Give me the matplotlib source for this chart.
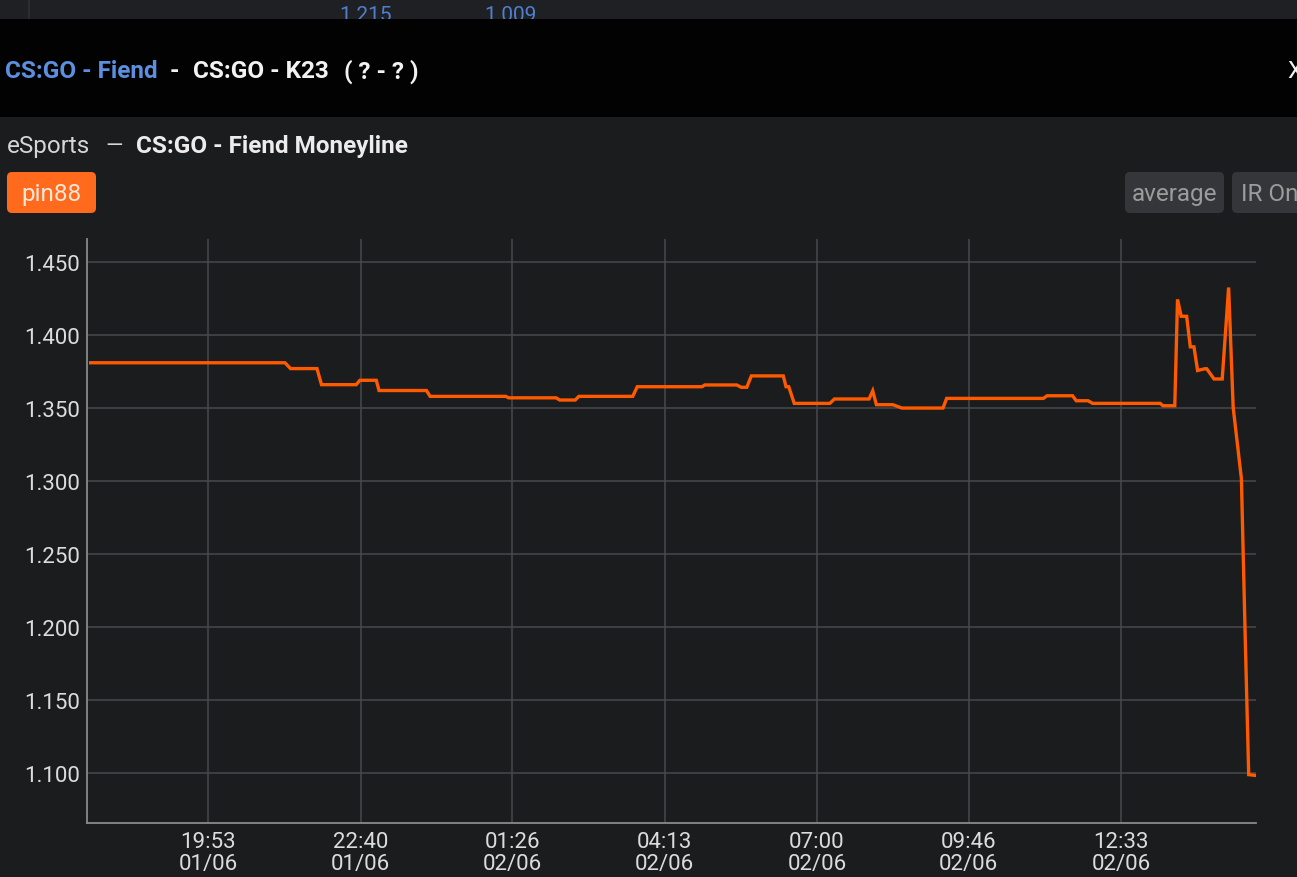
import matplotlib
matplotlib.use("Agg")
import matplotlib.pyplot as plt
import matplotlib.dates as mdates
import matplotlib.transforms as mtransforms
from matplotlib.patches import FancyBboxPatch, Rectangle
import pandas as pd

# ---------------- data ----------------
times = [
    "2021-06-01 17:44", "2021-06-01 21:17", "2021-06-01 21:23", "2021-06-01 21:52",
    "2021-06-01 21:57", "2021-06-01 22:35", "2021-06-01 22:39", "2021-06-01 22:57",
    "2021-06-01 23:00", "2021-06-01 23:52", "2021-06-01 23:56", "2021-06-02 01:19",
    "2021-06-02 01:22", "2021-06-02 02:14", "2021-06-02 02:18", "2021-06-02 02:35",
    "2021-06-02 02:39", "2021-06-02 03:38", "2021-06-02 03:43", "2021-06-02 04:54",
    "2021-06-02 04:57", "2021-06-02 05:32", "2021-06-02 05:37", "2021-06-02 05:43",
    "2021-06-02 05:48", "2021-06-02 06:23", "2021-06-02 06:26", "2021-06-02 06:29",
    "2021-06-02 06:35", "2021-06-02 07:14", "2021-06-02 07:19", "2021-06-02 07:57",
    "2021-06-02 08:01", "2021-06-02 08:05", "2021-06-02 08:23", "2021-06-02 08:33",
    "2021-06-02 09:18", "2021-06-02 09:22", "2021-06-02 11:08", "2021-06-02 11:12",
    "2021-06-02 11:40", "2021-06-02 11:44", "2021-06-02 11:57", "2021-06-02 12:02",
    "2021-06-02 13:16", "2021-06-02 13:19", "2021-06-02 13:32", "2021-06-02 13:35",
    "2021-06-02 13:39", "2021-06-02 13:45", "2021-06-02 13:49", "2021-06-02 13:53",
    "2021-06-02 13:57", "2021-06-02 14:05", "2021-06-02 14:07", "2021-06-02 14:15",
    "2021-06-02 14:24", "2021-06-02 14:31", "2021-06-02 14:36", "2021-06-02 14:45",
    "2021-06-02 14:49", "2021-06-02 14:53", "2021-06-02 15:01",
]
odds = [
    1.381, 1.381, 1.377, 1.377,
    1.366, 1.366, 1.369, 1.369,
    1.362, 1.362, 1.358, 1.358,
    1.357, 1.357, 1.3555, 1.3555,
    1.358, 1.358, 1.3646, 1.3646,
    1.3658, 1.3658, 1.3642, 1.3642,
    1.372, 1.372, 1.3646, 1.3646,
    1.3532, 1.3532, 1.3562, 1.3562,
    1.3618, 1.3523, 1.3523, 1.350,
    1.350, 1.3566, 1.3566, 1.3584,
    1.3584, 1.355, 1.355, 1.3532,
    1.3532, 1.3516, 1.3516, 1.4244,
    1.4128, 1.4128, 1.3919, 1.3919,
    1.3757, 1.3769, 1.3769, 1.3699,
    1.3699, 1.4325, 1.3503, 1.3017,
    1.1976, 1.0991, 1.0985,
]
tick_times = ["2021-06-01 19:53", "2021-06-01 22:40", "2021-06-02 01:26",
              "2021-06-02 04:13", "2021-06-02 07:00", "2021-06-02 09:46",
              "2021-06-02 12:33"]
tick_labels = ["19:53\n01/06", "22:40\n01/06", "01:26\n02/06", "04:13\n02/06",
               "07:00\n02/06", "09:46\n02/06", "12:33\n02/06"]
y_ticks = [1.100, 1.150, 1.200, 1.250, 1.300, 1.350, 1.400, 1.450]
x_range = ["2021-06-01 17:40", "2021-06-02 15:01"]
y_range = [1.066, 1.4657]

# ---------------- style ----------------
W, H = 1297, 878
BG = "#1b1c1e"
plt.rcParams['font.family'] = ['Roboto', 'DejaVu Sans']

fig = plt.figure(figsize=(W / 100, H / 100), dpi=100)
fig.patch.set_facecolor(BG)
T = mtransforms.Affine2D().scale(1, -1).translate(0, H)  # top-down pixel coords


def rect(x0, y0, x1, y1, color, z=1):
    fig.patches.append(Rectangle((x0, y0), x1 - x0, y1 - y0, transform=T,
                                 facecolor=color, edgecolor='none', zorder=z))


def button(x0, y0, x1, y1, color, z=3):
    fig.patches.append(FancyBboxPatch((x0, y0), x1 - x0, y1 - y0,
                                      boxstyle="round,pad=0,rounding_size=5",
                                      transform=T, facecolor=color,
                                      edgecolor='none', zorder=z))


def txt(x, y, s, **kw):
    kw.setdefault('va', 'center')
    fig.text(x, y, s, transform=T, **kw)


# top strip
rect(0, 0, W, 20, "#1f2023", z=0.5)
rect(28, 0, 29.5, 20, "#2c2d30", z=0.6)
txt(366, 16, "1.215", color="#4f7fcf", fontsize=15, ha='center', zorder=0.7)
txt(510, 16, "1.009", color="#4f7fcf", fontsize=15, ha='center', zorder=0.7)

# header
HF = 17.5
rect(0, 20, W, 118, "#020202", z=1)
txt(5, 72, "CS:GO - Fiend", color="#5b8fe0", fontsize=HF, fontweight='bold', ha='left', zorder=2)
txt(174, 72, "-", color="#f2f2f2", fontsize=HF, fontweight='bold', ha='center', zorder=2)
txt(193, 72, "CS:GO - K23", color="#f2f2f2", fontsize=HF, fontweight='bold', ha='left', zorder=2)
txt(344, 72, "( ? - ? )", color="#f2f2f2", fontsize=HF, fontweight='bold', ha='left', zorder=2)
txt(1287, 72, "X", color="#f2f2f2", fontsize=HF, ha='left', zorder=2)

# subtitle
SF = 17.5
txt(7, 147, "eSports", color="#d6d6d6", fontsize=SF, ha='left', zorder=2)
txt(114.5, 147, "\u2014", color="#d6d6d6", fontsize=16, ha='center', zorder=2)
txt(136, 147, "CS:GO - Fiend Moneyline", color="#ececec", fontsize=SF,
    fontweight='bold', ha='left', zorder=2)

# buttons
BF = 17.5
button(7, 173, 96, 214, "#ff6a1c")
txt(51.5, 194.5, "pin88", color="#fde8da", fontsize=BF, ha='center', zorder=4)
button(1125, 173, 1224, 214, "#343639")
txt(1174.5, 194.5, "average", color="#9c9c9c", fontsize=BF, ha='center', zorder=4)
button(1232, 173, 1320, 214, "#343639")
txt(1241, 194.5, "IR On", color="#9c9c9c", fontsize=BF, ha='left', zorder=4)

# ---------------- chart ----------------
ax = fig.add_axes([87 / W, 1 - 824 / H, (1256 - 87) / W, (824 - 240) / H])
ax.set_facecolor(BG)
t = pd.to_datetime(times)
ax.plot(t, odds, color="#ff5a00", lw=2.4, solid_joinstyle='miter', zorder=3)

ax.set_xlim(pd.to_datetime(x_range[0]), pd.to_datetime(x_range[1]))
ax.set_ylim(*y_range)
ax.set_yticks(y_ticks)
ax.set_yticklabels([f"{v:.3f}" for v in y_ticks])
ax.set_xticks(pd.to_datetime(tick_times))
ax.set_xticklabels(tick_labels, linespacing=1.05)

ax.grid(True, color="#48494c", lw=1.1)
for s in ['top', 'right']:
    ax.spines[s].set_visible(False)
for s in ['left', 'bottom']:
    ax.spines[s].set_color("#8a8a8a")
    ax.spines[s].set_linewidth(1.3)
ax.tick_params(axis='both', length=0, colors="#dcdcdc", labelsize=16)
ax.tick_params(axis='y', pad=5)
ax.tick_params(axis='x', pad=6)

fig.savefig("out.png", dpi=100, facecolor=BG)
